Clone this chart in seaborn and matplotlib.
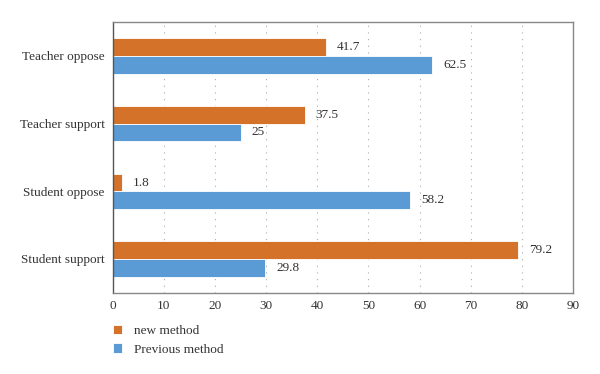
import matplotlib
matplotlib.use('Agg')
import matplotlib.pyplot as plt
import pandas as pd
import seaborn as sns

categories = ['Teacher oppose', 'Teacher support', 'Student oppose', 'Student support']
new_method = [41.7, 37.5, 1.8, 79.2]
previous_method = [62.5, 25, 58.2, 29.8]
series_names = ['new method', 'Previous method']
colors = ['#D4722A', '#5B9BD5']

sns.set_style('white')
plt.rcParams['font.family'] = ['Liberation Serif', 'DejaVu Serif']

df = pd.DataFrame({
    'Category': categories * 2,
    'Value': new_method + previous_method,
    'Method': [series_names[0]] * 4 + [series_names[1]] * 4,
})

fig = plt.figure(figsize=(6, 3.74), dpi=100)
ax = fig.add_axes([0.188, 0.217, 0.767, 0.724])
sns.barplot(data=df, y='Category', x='Value', hue='Method', order=categories,
            hue_order=series_names, palette=colors, orient='h', width=0.52,
            saturation=1, edgecolor='white', linewidth=0.6, ax=ax)

for cont in ax.containers:
    labels = [f'{v:g}' for v in cont.datavalues]
    ax.bar_label(cont, labels=labels, padding=8, fontsize=9.5, color='#333333')

ax.set_xlim(0, 90)
ax.set_xticks(range(0, 91, 10))
ax.set_xlabel('')
ax.set_ylabel('')
ax.tick_params(axis='both', labelsize=9.5, colors='#333333', length=0)
ax.tick_params(axis='x', pad=5)
ax.tick_params(axis='y', pad=6)
ax.xaxis.grid(True, linestyle=(0, (1, 5)), color='#aaaaaa', linewidth=0.8)
ax.set_axisbelow(True)
for side in ['top', 'right', 'bottom', 'left']:
    ax.spines[side].set_color('#888888')
    ax.spines[side].set_linewidth(1.0)
ax.spines['left'].set_color('#555555')

leg = ax.legend(loc='upper left', bbox_to_anchor=(-0.012, -0.1), frameon=False,
                fontsize=9.5, handlelength=0.7, handleheight=0.7, handletextpad=0.9,
                labelspacing=0.45, borderaxespad=0)
for t in leg.get_texts():
    t.set_color('#333333')

fig.savefig('out.png', dpi=100)
